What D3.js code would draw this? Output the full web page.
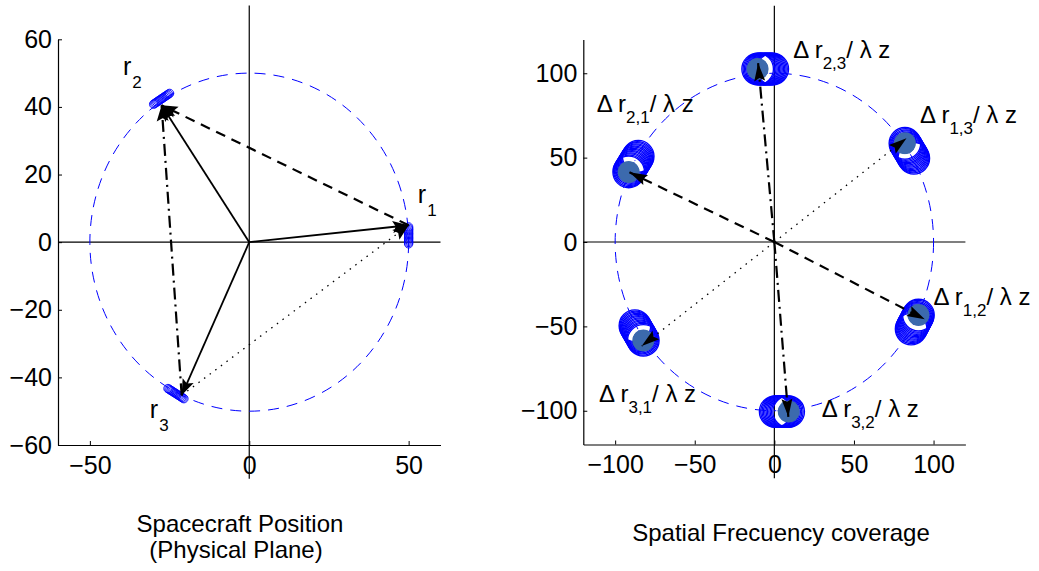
<!DOCTYPE html>
<html>
<head>
<meta charset="utf-8">
<script src="https://cdn.jsdelivr.net/npm/d3@7"></script>
<style>
  body { margin: 0; background: #fff; }
  text { font-family: "Liberation Sans", Arial, Helvetica, sans-serif; fill: #000; }
</style>
</head>
<body>
<svg id="chart" width="1039" height="571"></svg>
<script>
// ---- physical plane: spacecraft positions ----
var craftIds = ["1", "2", "3"];
var craftX = [50, -27.5, -21.2];
var craftY = [5, 40.5, -45.3];
// short piece of orbit each craft sweeps (start / end)
var trackX0 = [50, -30, -25.5];
var trackY0 = [-0.5, 40.8, -43.3];
var trackX1 = [50, -25, -20.5];
var trackY1 = [4.5, 44, -46.3];
var craftLabelX = [52.9, -39.6, -31.2];
var craftLabelY = [11.5, 49.4, -52.1];
var orbitRadius = 50;
// links between spacecraft (index into the arrays above)
var pairFrom = [0, 2, 2];
var pairTo = [1, 1, 0];
var pairStyle = ["dash", "dashdot", "dot"];
var physTicksX = [-50, 0, 50];
var physTicksY = [-60, -40, -20, 0, 20, 40, 60];

// ---- spatial frequency plane: baselines ----
var baselines = ["1,2", "2,1", "1,3", "3,1", "2,3", "3,2"];
var uvX = [90.5, -91.5, 82, -82.3, -10.5, 9];
var uvY = [-43.3, 41.5, 58.5, -58.3, 102.5, -100.5];
var uvEndX = [85.9, -85.5, 87.6, -87.6, -1, 0.5];
var uvEndY = [-51.6, 50.8, 49.6, -49.6, 102.5, -100.5];
var tipX = [94.5, -91, 83, -83.3, -10.2, 8.8];
var tipY = [-45.8, 41.3, 61.5, -61.7, 106, -103.6];
var uvStyle = ["dash", "dash", "dot", "dot", "dashdot", "dashdot"];
var uvLabelX = [99.9, -111.6, 91.5, -110.1, 11.9, 29.8];
var uvLabelY = [-37.4, 77.3, 70.4, -94.7, 109, -103.6];
var uvRadius = 100;
var freqTicks = [-100, -50, 0, 50, 100];

var dashes = { solid: null, dash: "10,7", dashdot: "12,5,2,5", dot: "1.5,5.5" };
var widths = { solid: 1.8, dash: 2.2, dashdot: 2.2, dot: 1.3 };

var svg = d3.select("#chart");

// scales
var xL = d3.scaleLinear().domain([-60, 60]).range([58, 440.5]);
var yL = d3.scaleLinear().domain([-60, 60]).range([445, 39.3]);
var xR = d3.scaleLinear().domain([-120, 120]).range([583.3, 965.4]);
var yR = d3.scaleLinear().domain([-120, 120]).range([444.5, 39.5]);

var drawAxes = function(g, x, y, tx, ty, span){
  // zero lines
  g.append("line")
    .attr("x1", x(x.domain()[0])).attr("x2", x(x.domain()[1]))
    .attr("y1", y(0)).attr("y2", y(0))
    .attr("stroke", "#000").attr("stroke-width", 1.2);
  g.append("line")
    .attr("x1", x(0)).attr("x2", x(0))
    .attr("y1", y(-span)).attr("y2", y(span))
    .attr("stroke", "#000").attr("stroke-width", 1.2);

  var ax = g.append("g")
    .attr("transform", "translate(0," + y.range()[0] + ")")
    .call(d3.axisBottom(x).tickValues(tx).tickSizeInner(-4).tickSizeOuter(0).tickPadding(11));
  var ay = g.append("g")
    .attr("transform", "translate(" + x.range()[0] + ",0)")
    .call(d3.axisLeft(y).tickValues(ty).tickSizeInner(-4).tickSizeOuter(0).tickPadding(6));
  [ax, ay].forEach(function(a){
    a.attr("font-size", 25).attr("font-family", null);
    a.select(".domain").attr("stroke", "#000").attr("stroke-width", 1.2);
    a.selectAll(".tick line").attr("stroke", "#000");
  });
};

var orbit = function(g, x, y, r){
  g.append("ellipse")
    .attr("cx", x(0)).attr("cy", y(0))
    .attr("rx", x(r) - x(0)).attr("ry", y(0) - y(r))
    .attr("fill", "none").attr("stroke", "#0000ff")
    .attr("stroke-width", 1).attr("stroke-dasharray", "11,8");
};

// swept marker: rings laid along a short segment (pixel space)
var rings = function(g, ax, ay, bx, by, r, step, w){
  var len = Math.hypot(bx - ax, by - ay);
  var n = Math.max(1, Math.round(len / step));
  g.append("g").selectAll("circle")
    .data(d3.range(n + 1))
    .enter().append("circle")
      .attr("cx", function(i){ return ax + (bx - ax) * i / n; })
      .attr("cy", function(i){ return ay + (by - ay) * i / n; })
      .attr("r", r)
      .attr("fill", "none")
      .attr("stroke", "#0000ff")
      .attr("stroke-width", w);
};

var line = function(g, x1, y1, x2, y2, style){
  g.append("line")
    .attr("x1", x1).attr("y1", y1).attr("x2", x2).attr("y2", y2)
    .attr("stroke", "#000")
    .attr("stroke-width", widths[style])
    .attr("stroke-dasharray", dashes[style]);
};

var head = function(g, x1, y1, x2, y2, len, hw){
  var dx = x2 - x1, dy = y2 - y1, d = Math.hypot(dx, dy);
  var ux = dx / d, uy = dy / d;
  var bx = x2 - ux * len, by = y2 - uy * len;
  g.append("path")
    .attr("d", "M" + x2 + "," + y2 +
               "L" + (bx - uy * hw) + "," + (by + ux * hw) +
               "L" + (bx + ux * 3) + "," + (by + uy * 3) +
               "L" + (bx + uy * hw) + "," + (by - ux * hw) + "Z")
    .attr("fill", "#000");
};

// ================= left panel =================
var left = svg.append("g");
drawAxes(left, xL, yL, physTicksX, physTicksY, 70);
orbit(left, xL, yL, orbitRadius);

craftIds.forEach(function(c, i){
  rings(left, xL(trackX0[i]), yL(trackY0[i]), xL(trackX1[i]), yL(trackY1[i]), 4.2, 1.3, 0.9);
});

// vectors from the origin
craftIds.forEach(function(c, i){
  line(left, xL(0), yL(0), xL(craftX[i]), yL(craftY[i]), "solid");
});
pairFrom.forEach(function(f, k){
  var t = pairTo[k];
  line(left, xL(craftX[f]), yL(craftY[f]), xL(craftX[t]), yL(craftY[t]), pairStyle[k]);
});
craftIds.forEach(function(c, i){
  head(left, xL(0), yL(0), xL(craftX[i]), yL(craftY[i]), 16, 6);
});
pairFrom.forEach(function(f, k){
  var t = pairTo[k];
  head(left, xL(craftX[f]), yL(craftY[f]), xL(craftX[t]), yL(craftY[t]), 16, 6);
});

craftIds.forEach(function(c, i){
  var t = left.append("text")
    .attr("x", xL(craftLabelX[i])).attr("y", yL(craftLabelY[i]))
    .attr("font-size", 25);
  t.append("tspan").text("r");
  t.append("tspan").attr("font-size", 17).attr("dy", 13).attr("dx", 1).text(c);
});

left.append("text").attr("x", 240).attr("y", 532).attr("font-size", 24)
  .attr("text-anchor", "middle").text("Spacecraft Position");
left.append("text").attr("x", 236).attr("y", 558).attr("font-size", 24)
  .attr("text-anchor", "middle").text("(Physical Plane)");

// ================= right panel =================
var right = svg.append("g");
drawAxes(right, xR, yR, freqTicks, freqTicks, 140);
orbit(right, xR, yR, uvRadius);

var arc = d3.arc();
baselines.forEach(function(b, i){
  var ax = xR(uvX[i]), ay = yR(uvY[i]), bx = xR(uvEndX[i]), by = yR(uvEndY[i]);
  var g = right.append("g");
  rings(g, ax, ay, bx, by, 15.8, 1.3, 1.3);
  g.append("circle").attr("cx", ax).attr("cy", ay).attr("r", 11)
    .attr("fill", "#3c6aad");
  var a = Math.atan2(bx - ax, -(by - ay));
  g.append("path")
    .attr("transform", "translate(" + ax + "," + ay + ")")
    .attr("d", arc({ innerRadius: 11.3, outerRadius: 12.5, startAngle: a - 0.75, endAngle: a + 0.75 }))
    .attr("fill", "#fff");
});

baselines.forEach(function(b, i){
  line(right, xR(0), yR(0), xR(tipX[i]), yR(tipY[i]), uvStyle[i]);
});
baselines.forEach(function(b, i){
  head(right, xR(0), yR(0), xR(tipX[i]), yR(tipY[i]), 18, 5.5);
});

baselines.forEach(function(b, i){
  var t = right.append("text")
    .attr("x", xR(uvLabelX[i])).attr("y", yR(uvLabelY[i]))
    .attr("font-size", 24);
  t.append("tspan").text("\u0394 r");
  t.append("tspan").attr("font-size", 17).attr("dy", 11).text(b);
  t.append("tspan").attr("dy", -11).text("/ \u03bb z");
});

right.append("text").attr("x", 781).attr("y", 541).attr("font-size", 24)
  .attr("text-anchor", "middle").text("Spatial Frecuency coverage");
</script>
</body>
</html>
